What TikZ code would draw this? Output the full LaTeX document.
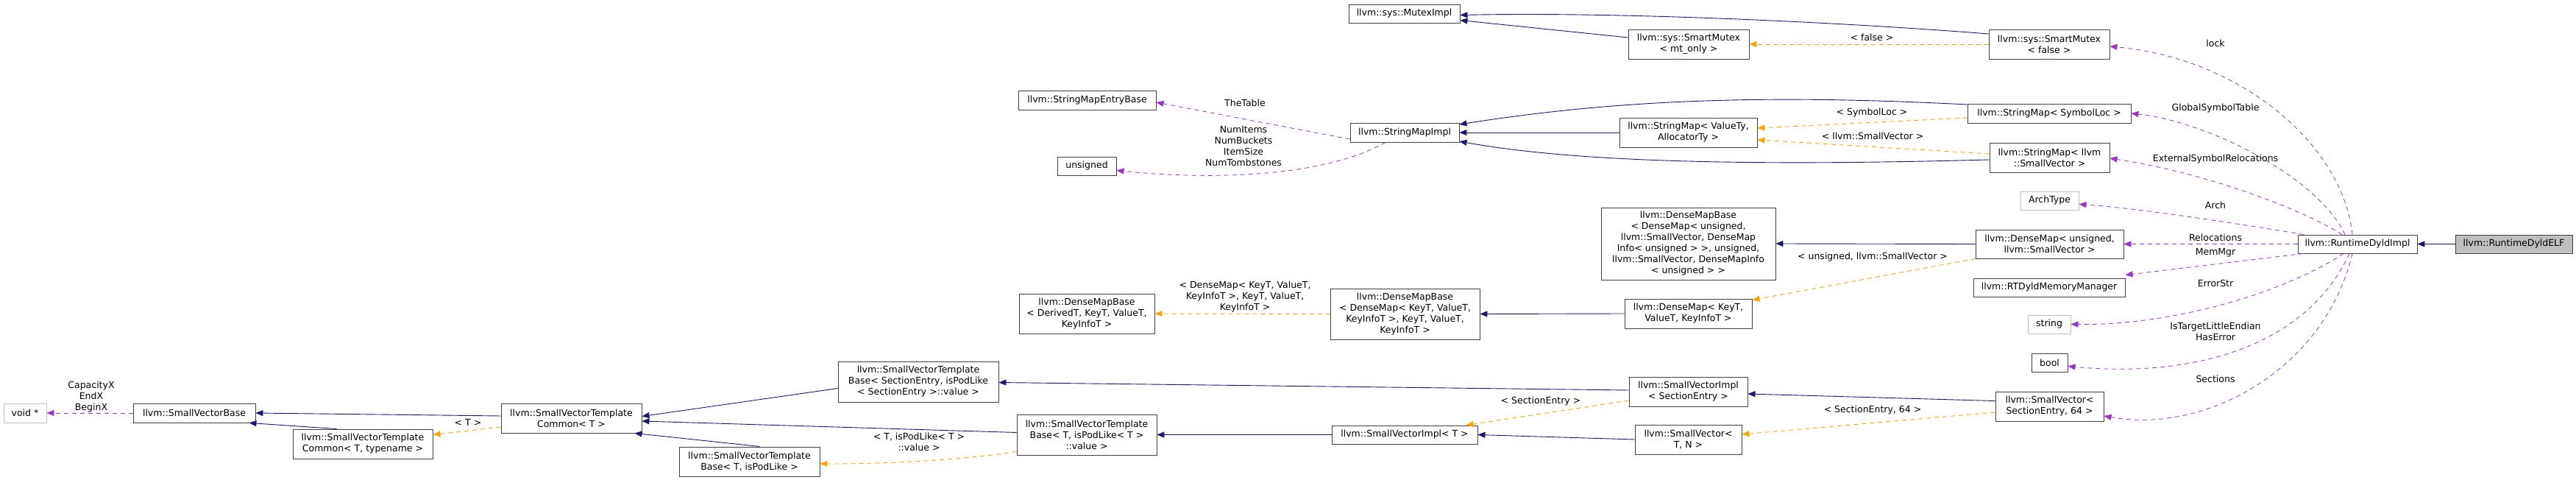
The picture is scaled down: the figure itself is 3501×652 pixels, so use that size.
\documentclass[tikz,border=0pt]{standalone}
\usepackage{fontspec}
\setmainfont{DejaVu Sans}
\usetikzlibrary{arrows.meta}
\definecolor{inhc}{HTML}{191970}
\definecolor{tplc}{HTML}{FFA500}
\definecolor{usec}{HTML}{9A32CD}
\definecolor{bordc}{HTML}{404040}
\definecolor{grayb}{HTML}{BFBFBF}
\begin{document}
\begin{tikzpicture}[x=1pt,y=-1pt,
  box/.style={draw=bordc,line width=0.9pt,fill=white,inner sep=0pt,align=center,font=\fontsize{12.5}{15}\selectfont},
  gbox/.style={box,draw=grayb},
  lbl/.style={inner sep=0pt,align=center,font=\fontsize{12.5}{15}\selectfont},
  inh/.style={draw=inhc,line width=0.9pt,-{Triangle[length=10pt,width=8pt,fill=inhc]}},
  tpl/.style={draw=tplc,line width=0.9pt,dash pattern=on 6pt off 5pt,-{Triangle[length=10pt,width=8pt,fill=tplc]}},
  use/.style={draw=usec,line width=0.8pt,dash pattern=on 6pt off 5pt,-{Triangle[length=10pt,width=8pt,fill=usec]}}]
\useasboundingbox (0,0) rectangle (3501,652);
% nodes
\node[gbox,minimum width=58pt,minimum height=26pt] (voidp) at (34,561) {void *};
\node[box,minimum width=166pt,minimum height=26pt] (svb) at (264,561) {llvm::SmallVectorBase};
\node[box,minimum width=190pt,minimum height=40pt] (svtct) at (493,603) {llvm::SmallVectorTemplate\\Common< T, typename >};
\node[box,minimum width=191pt,minimum height=40pt] (svtc) at (776.5,568) {llvm::SmallVectorTemplate\\Common< T >};
\node[box,minimum width=191pt,minimum height=40pt] (svtbt) at (1018.5,627) {llvm::SmallVectorTemplate\\Base< T, isPodLike >};
\node[box,minimum width=187pt,minimum height=26pt] (smeb) at (1477.5,136) {llvm::StringMapEntryBase};
\node[box,minimum width=80pt,minimum height=25pt] (uns) at (1477,225.5) {unsigned};
\node[box,minimum width=184pt,minimum height=54pt] (dmbd) at (1477,426) {llvm::DenseMapBase\\< DerivedT, KeyT, ValueT,\\KeyInfoT >};
\node[box,minimum width=218pt,minimum height=55pt] (svtbse) at (1248,518.5) {llvm::SmallVectorTemplate\\Base< SectionEntry, isPodLike\\< SectionEntry >::value >};
\node[box,minimum width=190pt,minimum height=55pt] (svtbtv) at (1477,590.5) {llvm::SmallVectorTemplate\\Base< T, isPodLike< T >\\::value >};
\node[box,minimum width=151pt,minimum height=25pt] (mutex) at (1908.5,18.5) {llvm::sys::MutexImpl};
\node[box,minimum width=148pt,minimum height=26pt] (smi) at (1909,180) {llvm::StringMapImpl};
\node[box,minimum width=203pt,minimum height=69pt] (dmbk) at (1909.5,426.5) {llvm::DenseMapBase\\< DenseMap< KeyT, ValueT,\\KeyInfoT >, KeyT, ValueT,\\KeyInfoT >};
\node[box,minimum width=198pt,minimum height=25pt] (svimplt) at (1909,590.5) {llvm::SmallVectorImpl< T >};
\node[box,minimum width=164pt,minimum height=40pt] (smmt) at (2295,60) {llvm::sys::SmartMutex\\< mt\_only >};
\node[box,minimum width=187pt,minimum height=40pt] (smva) at (2294.5,180) {llvm::StringMap< ValueTy,\\AllocatorTy >};
\node[box,minimum width=237pt,minimum height=98pt] (dmbu) at (2294.5,331) {llvm::DenseMapBase\\< DenseMap< unsigned,\\llvm::SmallVector, DenseMap\\Info< unsigned > >, unsigned,\\llvm::SmallVector, DenseMapInfo\\< unsigned > >};
\node[box,minimum width=173pt,minimum height=40pt] (dmk) at (2294.5,426) {llvm::DenseMap< KeyT,\\ValueT, KeyInfoT >};
\node[box,minimum width=161pt,minimum height=40pt] (svise) at (2294.5,532) {llvm::SmallVectorImpl\\< SectionEntry >};
\node[box,minimum width=145pt,minimum height=40pt] (svtn) at (2294.5,597) {llvm::SmallVector<\\T, N >};
\node[box,minimum width=164pt,minimum height=40pt] (smf) at (2785,60) {llvm::sys::SmartMutex\\< false >};
\node[box,minimum width=222pt,minimum height=26pt] (smsl) at (2785,154) {llvm::StringMap< SymbolLoc >};
\node[box,minimum width=163pt,minimum height=40pt] (smsv) at (2785.5,214) {llvm::StringMap< llvm\\::SmallVector >};
\node[gbox,minimum width=79pt,minimum height=25pt] (arch) at (2785.5,272.5) {ArchType};
\node[box,minimum width=201pt,minimum height=39pt] (dmus) at (2785.5,331.5) {llvm::DenseMap< unsigned,\\llvm::SmallVector >};
\node[box,minimum width=206pt,minimum height=25pt] (rtd) at (2785,390.5) {llvm::RTDyldMemoryManager};
\node[gbox,minimum width=58pt,minimum height=25pt] (str) at (2785,440.5) {string};
\node[box,minimum width=49pt,minimum height=25pt] (bool) at (2785.5,492.5) {bool};
\node[box,minimum width=147pt,minimum height=40pt] (sv64) at (2785.5,552) {llvm::SmallVector<\\SectionEntry, 64 >};
\node[box,minimum width=162pt,minimum height=25pt] (rdi) at (3204,331.5) {llvm::RuntimeDyldImpl};
\node[box,fill=grayb,minimum width=159pt,minimum height=25pt] (rde) at (3416.5,331.5) {llvm::RuntimeDyldELF};
% inheritance
\draw[inh] (rde) -- (rdi);
\draw[inh] ([yshift=14pt]smf.west) .. controls (2500,30) and (2200,16) .. ([yshift=-2pt]mutex.east);
\draw[inh] ([yshift=9pt]smmt.west) -- ([yshift=-9pt]mutex.east);
\draw[inh] ([yshift=12pt]smsl.west) .. controls (2400,128) and (2200,135) .. ([yshift=11pt]smi.east);
\draw[inh] (smva.west) -- (smi.east);
\draw[inh] ([yshift=-3pt]smsv.west) .. controls (2400,225) and (2150,222) .. ([yshift=-12pt]smi.east);
\draw[inh] (dmus.west) -- (dmbu.east);
\draw[inh] (dmk.west) -- (dmbk.east);
\draw[inh] ([yshift=-13pt]sv64.north west) -- ([yshift=-3pt]svise.east);
\draw[inh] ([yshift=2pt]svise.west) -- ([yshift=-1pt]svtbse.east);
\draw[inh] (svtn.west) -- (svimplt.east);
\draw[inh] (svimplt.west) -- (svtbtv.east);
\draw[inh] ([yshift=-9pt]svtbse.west) -- ([yshift=-18pt]svtc.north east);
\draw[inh] ([yshift=3pt]svtbtv.west) -- ([yshift=-4pt]svtc.east);
\draw[inh] ([xshift=-82pt]svtbt.north east) -- ([xshift=-10pt]svtc.south east);
\draw[inh] ([yshift=3pt]svtc.west) -- (svb.east);
\draw[inh] ([xshift=60pt]svtct.north west) -- ([xshift=-9pt]svb.south east);
% template instances
\draw[tpl] (smf.west) -- (smmt.east);
\node[lbl] (lfalse) at (2544,51) {< false >};
\draw[tpl] ([yshift=-6pt]smsl.west) -- ([yshift=6pt]smva.east);
\node[lbl] (lsl) at (2544,153) {< SymbolLoc >};
\draw[tpl] ([yshift=5pt]smsv.west) -- ([yshift=-10pt]smva.east);
\node[lbl] (lsv) at (2545,185) {< llvm::SmallVector >};
\draw[tpl] (dmus.south west) -- ([yshift=-2pt]dmk.north east);
\node[lbl] (lus) at (2545,349) {< unsigned, llvm::SmallVector >};
\draw[tpl] (dmbk.west) -- (dmbd.east);
\node[lbl] (ldm) at (1692,403) {< DenseMap< KeyT, ValueT,\\KeyInfoT >, KeyT, ValueT,\\KeyInfoT >};
\draw[tpl] ([yshift=-8pt]sv64.west) -- ([yshift=7pt]svtn.east);
\node[lbl] (l64) at (2545,557) {< SectionEntry, 64 >};
\draw[tpl] ([yshift=-12pt]svise.west) -- ([xshift=-16pt]svimplt.north east);
\node[lbl] (lse) at (2094,545) {< SectionEntry >};
\draw[tpl] ([yshift=-23pt]svtbtv.west) .. controls (1300,626) and (1200,630) .. ([yshift=-3pt]svtbt.east);
\node[lbl] (lpod) at (1249,600) {< T, isPodLike< T >\\::value >};
\draw[tpl] ([yshift=-12pt]svtc.west) -- ([yshift=-8pt]svtct.north east);
\node[lbl] (lt) at (636,574) {< T >};
% usage
\draw[use] ([xshift=-7pt]rdi.north) .. controls (3185,200) and (3050,80) .. ([yshift=-3pt]smf.east);
\node[lbl] (llock) at (3011,59) {lock};
\draw[use] ([xshift=-17pt]rdi.north) .. controls (3150,240) and (3000,165) .. (smsl.east);
\node[lbl] (lgst) at (3011,147) {GlobalSymbolTable};
\draw[use] ([xshift=-21pt]rdi.north) .. controls (3130,285) and (3000,235) .. ([yshift=-1pt]smsv.east);
\node[lbl] (lesr) at (3011,216) {ExternalSymbolRelocations};
\draw[use] ([xshift=8pt]rdi.north west) .. controls (3050,305) and (2900,282) .. ([yshift=-5pt]arch.east);
\node[lbl] (larch) at (3011,279) {Arch};
\draw[use] (rdi.west) -- (dmus.east);
\node[lbl] (lrel) at (3011,323) {Relocations};
\draw[use] ([xshift=8pt]rdi.south west) -- ([yshift=4pt]rtd.north east);
\node[lbl] (lmem) at (3011,343) {MemMgr};
\draw[use] ([xshift=-19pt]rdi.south) .. controls (3100,400) and (2950,442) .. (str.east);
\node[lbl] (lerr) at (3011,385) {ErrorStr};
\draw[use] ([xshift=-11pt]rdi.south) .. controls (3140,460) and (3000,515) .. ([yshift=-5pt]bool.east);
\node[lbl] (lbool) at (3011,450) {IsTargetLittleEndian\\HasError};
\draw[use] ([xshift=-7pt]rdi.south) .. controls (3160,500) and (3000,590) .. ([yshift=-13pt]sv64.east);
\node[lbl] (lsec) at (3011,515) {Sections};
\draw[use] ([yshift=-9pt]smi.west) -- ([yshift=-3pt]smeb.east);
\node[lbl] (ltab) at (1692,140) {TheTable};
\draw[use] ([xshift=-26pt]smi.south) .. controls (1800,240) and (1650,245) .. ([yshift=-6pt]uns.east);
\node[lbl] (lnum) at (1690,199) {NumItems\\NumBuckets\\ItemSize\\NumTombstones};
\draw[use] (svb.west) -- (voidp.east);
\node[lbl] (lcap) at (124,539) {CapacityX\\EndX\\BeginX};
\end{tikzpicture}
\end{document}
